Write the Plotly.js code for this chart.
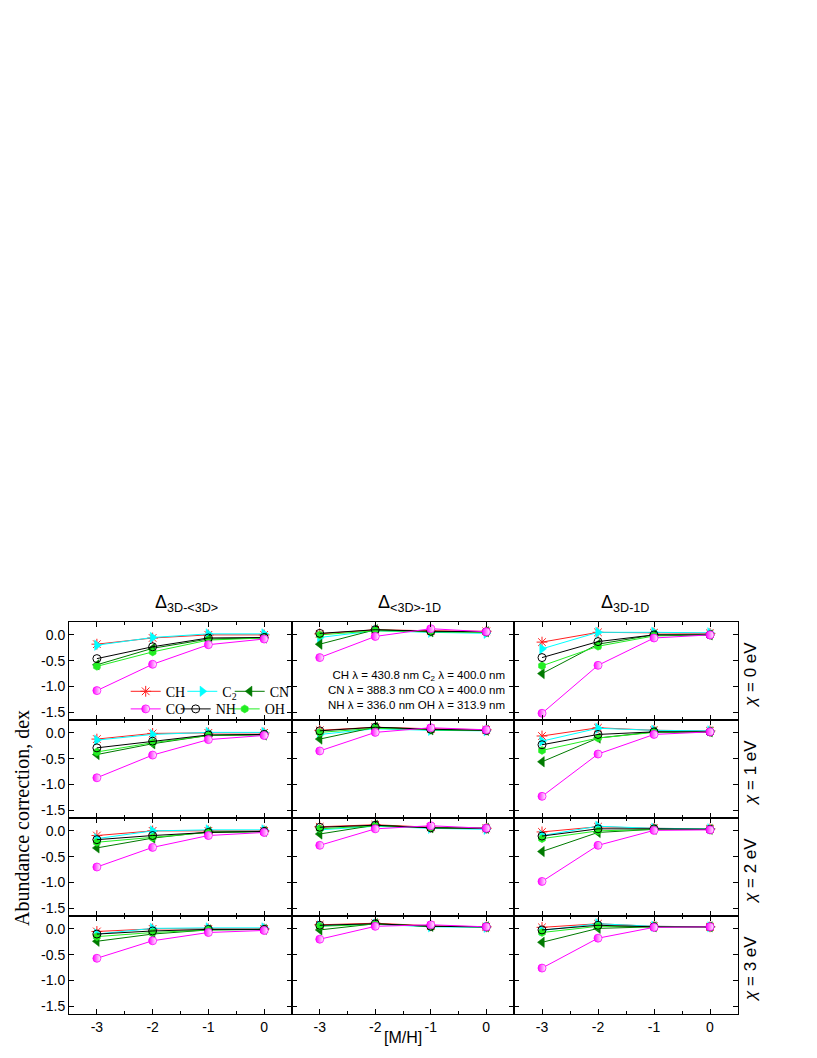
<!DOCTYPE html>
<html><head><meta charset="utf-8">
<script src="https://cdn.plot.ly/plotly-3.0.1.min.js"></script>
<style>html,body{margin:0;padding:0;background:#fff;}</style>
</head><body><div id="chart" style="width:817px;height:1058px;"></div>
<script>
// x values: metallicity [M/H]
const metallicity = [-3, -2, -1, 0];
const molecules = ['CH', 'C2', 'CN', 'CO', 'NH', 'OH'];
const moleculeLabels = ['CH', 'C<sub>2</sub>', 'CN', 'CO', 'NH', 'OH'];
const columnTitles = ['Δ<sub>3D-&lt;3D&gt;</sub>', 'Δ<sub>&lt;3D&gt;-1D</sub>', 'Δ<sub>3D-1D</sub>'];
const rowTitles = ['<i>χ</i> = 0 eV', '<i>χ</i> = 1 eV', '<i>χ</i> = 2 eV', '<i>χ</i> = 3 eV'];
const yTickVals = [0, -0.5, -1.0, -1.5];
const yTickText = ['0.0', '-0.5', '-1.0', '-1.5'];
const xTickText = ['-3', '-2', '-1', '0'];

// rows: CH, C2, CN, CO, NH, OH
const d3D_avg_chi0 = [[-0.18,-0.06,0.00,0.00],[-0.20,-0.05,0.02,0.02],[-0.58,-0.26,-0.08,-0.06],[-1.08,-0.57,-0.19,-0.08],[-0.46,-0.23,-0.06,-0.05],[-0.61,-0.33,-0.10,-0.06]];
const davg_1D_chi0 = [[0.02,0.10,0.08,0.07],[-0.05,0.08,0.05,0.03],[-0.18,0.10,0.06,0.06],[-0.44,-0.03,0.12,0.06],[0.03,0.10,0.07,0.06],[0.00,0.08,0.06,0.05]];
const d3D_1D_chi0 = [[-0.14,0.05,0.04,0.03],[-0.27,0.05,0.05,0.04],[-0.75,-0.18,0.00,0.00],[-1.52,-0.59,-0.06,0.00],[-0.44,-0.13,0.00,0.00],[-0.60,-0.22,-0.02,0.00]];

const d3D_avg_chi1 = [[-0.12,-0.01,0.00,0.00],[-0.14,-0.03,0.01,0.01],[-0.42,-0.21,-0.05,-0.04],[-0.87,-0.43,-0.13,-0.05],[-0.29,-0.16,-0.04,-0.03],[-0.37,-0.19,-0.05,-0.03]];
const davg_1D_chi1 = [[0.05,0.11,0.08,0.06],[-0.03,0.08,0.05,0.04],[-0.12,0.11,0.06,0.05],[-0.35,0.01,0.10,0.06],[0.04,0.11,0.07,0.05],[0.01,0.09,0.06,0.05]];
const d3D_1D_chi1 = [[-0.06,0.10,0.05,0.04],[-0.16,0.09,0.05,0.04],[-0.56,-0.10,0.02,0.02],[-1.23,-0.41,-0.03,0.02],[-0.23,-0.03,0.02,0.02],[-0.34,-0.10,0.01,0.02]];

const d3D_avg_chi2 = [[-0.09,0.00,0.00,0.00],[-0.15,0.00,0.02,0.02],[-0.33,-0.14,-0.02,-0.01],[-0.70,-0.32,-0.09,-0.03],[-0.17,-0.09,-0.03,-0.01],[-0.22,-0.13,-0.03,-0.02]];
const davg_1D_chi2 = [[0.08,0.12,0.07,0.05],[0.02,0.09,0.05,0.03],[-0.06,0.11,0.06,0.05],[-0.28,0.04,0.10,0.05],[0.07,0.11,0.06,0.05],[0.04,0.10,0.06,0.05]];
const d3D_1D_chi2 = [[-0.02,0.08,0.05,0.04],[-0.09,0.09,0.05,0.04],[-0.40,-0.03,0.03,0.03],[-0.98,-0.28,0.01,0.02],[-0.10,0.04,0.04,0.03],[-0.15,0.00,0.03,0.03]];

const d3D_avg_chi3 = [[-0.05,0.00,0.00,0.00],[-0.10,0.01,0.02,0.02],[-0.24,-0.10,-0.02,-0.01],[-0.57,-0.23,-0.07,-0.03],[-0.10,-0.04,-0.01,-0.01],[-0.15,-0.07,-0.02,-0.01]];
const davg_1D_chi3 = [[0.08,0.11,0.06,0.04],[0.06,0.09,0.04,0.03],[-0.02,0.10,0.05,0.04],[-0.20,0.05,0.08,0.04],[0.07,0.10,0.05,0.04],[0.05,0.09,0.05,0.04]];
const d3D_1D_chi3 = [[0.03,0.10,0.05,0.04],[-0.03,0.10,0.05,0.04],[-0.26,0.01,0.04,0.04],[-0.76,-0.18,0.03,0.04],[-0.02,0.07,0.04,0.04],[-0.07,0.05,0.04,0.04]];

const panels = [
  [d3D_avg_chi0, davg_1D_chi0, d3D_1D_chi0],
  [d3D_avg_chi1, davg_1D_chi1, d3D_1D_chi1],
  [d3D_avg_chi2, davg_1D_chi2, d3D_1D_chi2],
  [d3D_avg_chi3, davg_1D_chi3, d3D_1D_chi3]
];

const W = 817, H = 1058;
const colPx = [[69, 292], [292, 514], [514, 738]];
const rowPx = [[622, 720], [720, 818], [818, 916], [916, 1014]];
const px = v => v / W;
const py = v => 1 - v / H;

const styles = {
  CH: {color: '#ff2020', symbol: 'asterisk-open', size: 9, lw: 1},
  C2: {color: '#00ffff', symbol: 'triangle-right', size: 9, lw: 0.5},
  CN: {color: '#007a00', symbol: 'triangle-left', size: 9, lw: 0.5},
  CO: {color: '#ff00ff', symbol: 'circle', size: 8, lw: 0.8},
  NH: {color: '#000000', symbol: 'circle-open', size: 8, lw: 1},
  OH: {color: '#22ee22', symbol: 'hexagon', size: 8, lw: 0.5}
};
const drawOrder = [0, 1, 2, 5, 4, 3];
const legendNames = ['legend', 'legend2', 'legend3', 'legend4', 'legend5', 'legend6'];
const legendPos = [[147.7, 691.7], [204.3, 691.7], [251.7, 691.7], [147.7, 709.3], [197.7, 709.3], [246.7, 709.3]];

const traces = [];
const layout = {
  width: W, height: H,
  margin: {l: 0, r: 0, t: 0, b: 0},
  paper_bgcolor: '#ffffff', plot_bgcolor: '#ffffff',
  font: {family: 'Liberation Sans, Arial, sans-serif', size: 13, color: '#000'},
  showlegend: true,
  annotations: []
};

for (let r = 0; r < 4; r++) {
  for (let c = 0; c < 3; c++) {
    const idx = r * 3 + c + 1;
    const xa = 'xaxis' + (idx === 1 ? '' : idx);
    const ya = 'yaxis' + (idx === 1 ? '' : idx);
    const xr = 'x' + (idx === 1 ? '' : idx);
    const yr = 'y' + (idx === 1 ? '' : idx);
    layout[xa] = {
      domain: [px(colPx[c][0]), px(colPx[c][1])], anchor: yr,
      range: [-3.5, 0.5], tickmode: 'array', tickvals: metallicity, ticktext: xTickText,
      ticks: 'inside', ticklen: 5, tickwidth: 1, tickcolor: '#000',
      minor: {dtick: 0.5, tick0: 0.5, ticks: 'inside', ticklen: 3, tickcolor: '#000'},
      showline: true, linecolor: '#000', linewidth: 1, mirror: 'ticks',
      showgrid: false, zeroline: false, showticklabels: r === 3,
      tickfont: {size: 14, family: 'Liberation Sans, Arial, sans-serif'}
    };
    layout[ya] = {
      domain: [py(rowPx[r][1]), py(rowPx[r][0])], anchor: xr,
      range: [-1.65, 0.25], tickmode: 'array', tickvals: yTickVals, ticktext: yTickText,
      ticks: 'inside', ticklen: 5, tickwidth: 1, tickcolor: '#000',
      showline: true, linecolor: '#000', linewidth: 1, mirror: 'ticks',
      showgrid: false, zeroline: false, showticklabels: c === 0,
      tickfont: {size: 14, family: 'Liberation Sans, Arial, sans-serif'}
    };
    const data = panels[r][c];
    drawOrder.forEach(m => {
      const name = molecules[m];
      const st = styles[name];
      const marker = {symbol: st.symbol, size: st.size, color: st.color, line: {color: st.color, width: st.lw}};
      if (name === 'CO') marker.gradient = {type: 'horizontal', color: '#ffffff'};
      traces.push({
        type: 'scatter', mode: 'lines+markers',
        x: metallicity, y: data[m], xaxis: xr, yaxis: yr,
        name: moleculeLabels[m],
        line: {color: st.color, width: 1},
        marker: marker,
        showlegend: idx === 1,
        legend: legendNames[m],
        hoverinfo: 'skip'
      });
    });
  }
}

legendNames.forEach((ln, i) => {
  layout[ln] = {
    x: px(legendPos[i][0] - 22), y: py(legendPos[i][1]), xanchor: 'left', yanchor: 'middle',
    bgcolor: 'rgba(0,0,0,0)', borderwidth: 0,
    font: {family: 'Liberation Serif, Times New Roman, serif', size: 14, color: '#000'},
    itemclick: false
  };
});

// column titles
const colTitleX = [186, 409, 625];
columnTitles.forEach((t, c) => {
  layout.annotations.push({text: t, xref: 'paper', yref: 'paper', x: px(colTitleX[c]), y: py(603),
    xanchor: 'center', yanchor: 'middle', showarrow: false,
    font: {size: 18, family: 'Liberation Sans, Arial, sans-serif'}});
});
// row titles
rowTitles.forEach((t, r) => {
  layout.annotations.push({text: t, xref: 'paper', yref: 'paper', x: px(750), y: py((rowPx[r][0] + rowPx[r][1]) / 2 + 4),
    xanchor: 'center', yanchor: 'middle', showarrow: false, textangle: -90,
    font: {size: 17, family: 'Liberation Sans, Arial, sans-serif'}});
});
// axis titles
layout.annotations.push({text: 'Abundance correction, dex', xref: 'paper', yref: 'paper', x: px(22), y: py(818),
  xanchor: 'center', yanchor: 'middle', showarrow: false, textangle: -90,
  font: {size: 20, family: 'Liberation Serif, Times New Roman, serif'}});
layout.annotations.push({text: '[M/H]', xref: 'paper', yref: 'paper', x: px(403), y: py(1037),
  xanchor: 'center', yanchor: 'middle', showarrow: false,
  font: {size: 16, family: 'Liberation Sans, Arial, sans-serif'}});
// wavelength note
layout.annotations.push({text: 'CH λ = 430.8 nm C<sub>2</sub> λ = 400.0 nm<br>CN λ = 388.3 nm CO λ = 400.0 nm<br>NH λ = 336.0 nm OH λ = 313.9 nm',
  xref: 'paper', yref: 'paper', x: px(507), y: py(690), xanchor: 'right', yanchor: 'middle', align: 'right', showarrow: false,
  font: {size: 11.5, family: 'Liberation Sans, Arial, sans-serif'}});

Plotly.newPlot('chart', traces, layout, {displayModeBar: false, staticPlot: true});
</script>
</body></html>
